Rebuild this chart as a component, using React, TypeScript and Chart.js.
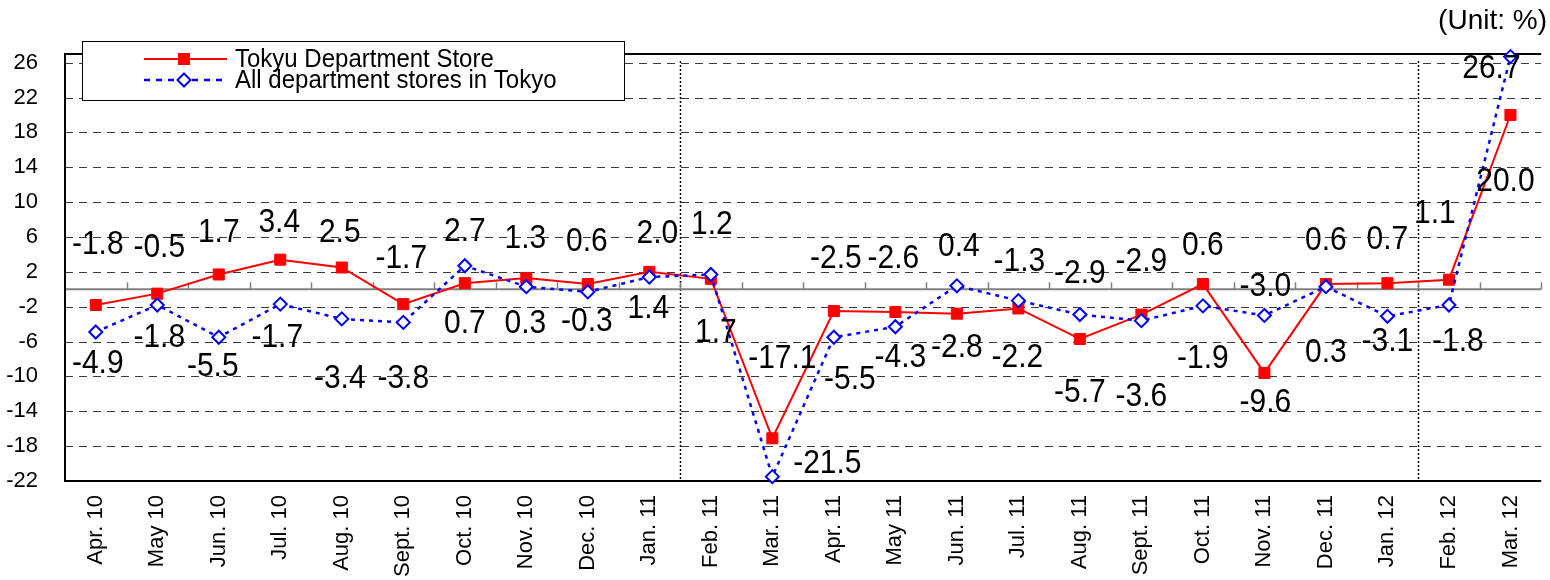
import React, { useEffect, useRef } from 'react';
import { Chart, registerables } from 'chart.js';

Chart.register(...registerables);

const categories = [
  'Apr. 10', 'May 10', 'Jun. 10', 'Jul. 10', 'Aug. 10', 'Sept. 10', 'Oct. 10', 'Nov. 10',
  'Dec. 10', 'Jan. 11', 'Feb. 11', 'Mar. 11', 'Apr. 11', 'May 11', 'Jun. 11', 'Jul. 11',
  'Aug. 11', 'Sept. 11', 'Oct. 11', 'Nov. 11', 'Dec. 11', 'Jan. 12', 'Feb. 12', 'Mar. 12',
];

const tokyuValues = [
  -1.8, -0.5, 1.7, 3.4, 2.5, -1.7, 0.7, 1.3, 0.6, 2.0, 1.2, -17.1,
  -2.5, -2.6, -2.8, -2.2, -5.7, -2.9, 0.6, -9.6, 0.6, 0.7, 1.1, 20.0,
];

const allStoresValues = [
  -4.9, -1.8, -5.5, -1.7, -3.4, -3.8, 2.7, 0.3, -0.3, 1.4, 1.7, -21.5,
  -5.5, -4.3, 0.4, -1.3, -2.9, -3.6, -1.9, -3.0, 0.3, -3.1, -1.8, 26.7,
];

const seriesNames = ['Tokyu Department Store', 'All department stores in Tokyo'];
const unitLabel = '(Unit: %)';
const yTickValues = [-22, -18, -14, -10, -6, -2, 2, 6, 10, 14, 18, 22, 26];
const yMin = -22;
const yMax = 27;
// fiscal-year dividers are drawn after these category indices
const dividerAfter = [9, 21];

// value-label placement hints (pixels, relative to each point)
const tokyuLabelDx = [2, 2, 0, -1, -2, -2, 0, -1, -1, 8, 1, 10, 2, -2, 0, -1, 0, 0, 0, 1, 0, 0, -14, -5];
const tokyuLabelDy = [-61, -47, -43, -38, -36, -47, 39, -40, -44, -39, -55, -81, -54, -54, 33, 48, 53, -54, -40, 29, -45, -45, -67, 66];
const allLabelDx = [2, 2, -6, -3, -2, 0, 0, -1, -1, -1, 5, 55, 16, 5, 2, 1, 0, 0, 0, 1, 0, 0, 9, -19];
const allLabelDy = [31, 32, 28, 32, 59, 55, -35, 36, 29, 30, 57, -14, 41, 30, -40, -40, -42, 75, 52, -30, 65, 24, 36, 11];

const FONT = "'Liberation Sans', Arial, Helvetica, sans-serif";

export default function App() {
  const canvasRef = useRef<HTMLCanvasElement>(null);

  useEffect(() => {
    const canvas = canvasRef.current;
    if (!canvas) return;

    const backdrop = {
      id: 'backdrop',
      beforeDatasetsDraw(chart: any) {
        const { ctx, chartArea: a, scales } = chart;
        const xs = scales.x;
        const ys = scales.y;
        const step = xs.getPixelForValue(1) - xs.getPixelForValue(0);
        ctx.save();
        // dashed horizontal grid
        ctx.strokeStyle = '#3a3a3a';
        ctx.lineWidth = 1;
        ctx.setLineDash([8, 6]);
        for (const v of yTickValues) {
          if (v === yMin) continue;
          const py = Math.round(ys.getPixelForValue(v)) + 0.5;
          ctx.beginPath();
          ctx.moveTo(a.left, py);
          ctx.lineTo(a.right, py);
          ctx.stroke();
        }
        // dotted fiscal-year dividers
        ctx.setLineDash([2, 2]);
        ctx.lineWidth = 1.5;
        ctx.strokeStyle = '#000';
        for (const idx of dividerAfter) {
          const px = Math.round(xs.getPixelForValue(idx) + step / 2) + 0.5;
          ctx.beginPath();
          ctx.moveTo(px, ys.getPixelForValue(26.2));
          ctx.lineTo(px, a.bottom);
          ctx.stroke();
        }
        // zero line with category tick marks
        ctx.setLineDash([]);
        const y0 = ys.getPixelForValue(0);
        ctx.strokeStyle = '#808080';
        ctx.lineWidth = 2;
        ctx.beginPath();
        ctx.moveTo(a.left, y0);
        ctx.lineTo(a.right, y0);
        ctx.stroke();
        ctx.lineWidth = 1.5;
        for (let i = 0; i < categories.length; i++) {
          const px = Math.round(xs.getPixelForValue(i) + step / 2) + 0.5;
          ctx.beginPath();
          ctx.moveTo(px, y0);
          ctx.lineTo(px, y0 - 7);
          ctx.stroke();
        }
        // frame
        ctx.strokeStyle = '#000';
        ctx.lineWidth = 2;
        ctx.beginPath();
        ctx.moveTo(a.right, a.top);
        ctx.lineTo(a.left, a.top);
        ctx.lineTo(a.left, a.bottom);
        ctx.lineTo(a.right, a.bottom);
        ctx.stroke();
        ctx.restore();
      },
    };

    const overlay = {
      id: 'overlay',
      afterDraw(chart: any) {
        const { ctx } = chart;
        ctx.save();
        // value labels
        ctx.fillStyle = '#000';
        ctx.font = `30px ${FONT}`;
        ctx.textAlign = 'center';
        ctx.textBaseline = 'middle';
        const sets = [
          { values: tokyuValues, dx: tokyuLabelDx, dy: tokyuLabelDy, meta: chart.getDatasetMeta(0) },
          { values: allStoresValues, dx: allLabelDx, dy: allLabelDy, meta: chart.getDatasetMeta(1) },
        ];
        for (const s of sets) {
          s.meta.data.forEach((pt: any, i: number) => {
            ctx.save();
            ctx.translate(pt.x + s.dx[i], pt.y + s.dy[i]);
            ctx.scale(1, 1.13);
            ctx.fillText(s.values[i].toFixed(1), 0, 1);
            ctx.restore();
          });
        }

        // legend box
        const lx = 82, ly = 41, lw = 542, lh = 59;
        ctx.fillStyle = '#fff';
        ctx.fillRect(lx, ly, lw, lh);
        ctx.strokeStyle = '#000';
        ctx.lineWidth = 1;
        ctx.strokeRect(lx + 0.5, ly + 0.5, lw, lh);
        const rows = [59, 80];
        // red row
        ctx.strokeStyle = '#ff0000';
        ctx.lineWidth = 2;
        ctx.beginPath();
        ctx.moveTo(144, rows[0]);
        ctx.lineTo(227, rows[0]);
        ctx.stroke();
        ctx.fillStyle = '#ff0000';
        ctx.fillRect(184 - 6, rows[0] - 6, 12, 12);
        // blue row
        ctx.strokeStyle = '#0000ff';
        ctx.lineWidth = 2.5;
        ctx.setLineDash([6, 6]);
        ctx.beginPath();
        ctx.moveTo(144, rows[1]);
        ctx.lineTo(227, rows[1]);
        ctx.stroke();
        ctx.setLineDash([]);
        ctx.fillStyle = '#fff';
        ctx.lineWidth = 2;
        ctx.beginPath();
        ctx.moveTo(184, rows[1] - 6.5);
        ctx.lineTo(190.5, rows[1]);
        ctx.lineTo(184, rows[1] + 6.5);
        ctx.lineTo(177.5, rows[1]);
        ctx.closePath();
        ctx.fill();
        ctx.stroke();
        ctx.fillStyle = '#000';
        ctx.font = `24px ${FONT}`;
        ctx.textAlign = 'left';
        ctx.textBaseline = 'middle';
        for (let r = 0; r < 2; r++) {
          ctx.save();
          ctx.translate(235, rows[r]);
          ctx.scale(1, 1.08);
          ctx.fillText(seriesNames[r], 0, 1);
          ctx.restore();
        }

        // unit
        ctx.font = `28px ${FONT}`;
        ctx.textAlign = 'right';
        ctx.fillText(unitLabel, 1547, 21);
        ctx.restore();
      },
    };

    const chart = new Chart(canvas, {
      type: 'line',
      data: {
        labels: categories,
        datasets: [
          {
            label: seriesNames[0],
            data: tokyuValues,
            borderColor: '#ff0000',
            backgroundColor: '#ff0000',
            borderWidth: 2,
            tension: 0,
            pointStyle: 'rect',
            pointRadius: 7.8,
            pointBackgroundColor: '#ff0000',
            pointBorderColor: '#ff0000',
            pointBorderWidth: 1,
            clip: false,
            order: 1,
          },
          {
            label: seriesNames[1],
            data: allStoresValues,
            borderColor: '#0000ff',
            backgroundColor: '#ffffff',
            borderWidth: 2.5,
            borderDash: [4, 5],
            tension: 0,
            pointStyle: 'rectRot',
            pointRadius: 6.5,
            pointBackgroundColor: '#ffffff',
            pointBorderColor: '#0000ff',
            pointBorderWidth: 2,
            clip: false,
            order: 0,
          },
        ],
      },
      options: {
        responsive: false,
        devicePixelRatio: 1,
        animation: false,
        layout: { padding: { top: 54, left: 0, right: 0, bottom: 0 } },
        plugins: { legend: { display: false }, tooltip: { enabled: false } },
        scales: {
          x: {
            offset: true,
            grid: { display: false, drawTicks: false },
            border: { display: false },
            ticks: {
              color: '#000',
              font: { family: FONT, size: 22 },
              minRotation: 90,
              maxRotation: 90,
              autoSkip: false,
              padding: 14,
            },
            afterFit(scale: any) {
              scale.height = 99;
              scale.paddingLeft = 0;
              scale.paddingRight = 0;
            },
          },
          y: {
            min: yMin,
            max: yMax,
            grid: { display: false, drawTicks: false },
            border: { display: false },
            ticks: {
              color: '#000',
              font: { family: FONT, size: 22 },
              padding: 27,
              autoSkip: false,
            },
            afterBuildTicks(scale: any) {
              scale.ticks = yTickValues.map((v) => ({ value: v }));
            },
            afterFit(scale: any) {
              scale.width = 65;
              scale.paddingTop = 0;
              scale.paddingBottom = 0;
            },
          },
        },
      },
      plugins: [backdrop, overlay],
    });

    return () => chart.destroy();
  }, []);

  return (
    <div style={{ position: 'fixed', left: 0, top: 0, width: 1550, height: 580, background: '#fff' }}>
      <canvas ref={canvasRef} width={1550} height={580} style={{ display: 'block' }} />
    </div>
  );
}
